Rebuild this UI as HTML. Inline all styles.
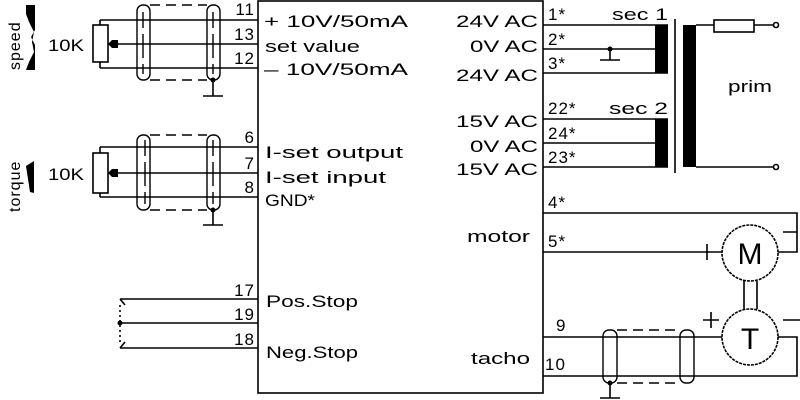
<!DOCTYPE html>
<html><head><meta charset="utf-8"><style>
html,body{margin:0;padding:0;background:#fff;width:800px;height:400px;overflow:hidden}
svg text{font-family:"Liberation Sans",sans-serif;font-size:17px;fill:#000;letter-spacing:1px}
svg text[textLength]{letter-spacing:0}
</style></head><body>
<svg width="800" height="400" viewBox="0 0 800 400" xmlns="http://www.w3.org/2000/svg">
<g stroke="#000" stroke-width="1.6" fill="none">
<rect x="258" y="1" width="285" height="392"/>
<path d="M100 20H258M112 44H258M100 68H258M100 20V25M100 62V68"/>
<rect x="93" y="25" width="15" height="37"/>
<path d="M100 147H258M112 173H258M100 197H258M100 147V153M100 193V197"/>
<rect x="93" y="153" width="15" height="40"/>
<g stroke-dasharray="10,6">
<path d="M150 5H207M150 80H207M150 135H207M150 210H207"/>
</g>
<g stroke-width="1.4">
<rect x="137" y="5" width="13" height="75" rx="6"/>
<rect x="207" y="5" width="13" height="75" rx="6"/>
<rect x="137" y="135" width="13" height="75" rx="6"/>
<rect x="207" y="135" width="13" height="75" rx="6"/>
<path d="M143 12V28M143 34V58M143 64V74M213 12V28M213 34V58M213 64V74"/>
<path d="M145 140V156M145 162V186M145 192V204M213 140V156M213 162V186M213 192V204"/>
</g>
<path d="M213 80V96M203 96H223M213 210V225M203 225H223"/>
<path d="M120 299H258M120 323H258M120 348H258M120 299L125 305M120 348L125 342"/>
<path d="M120 305V342" stroke-dasharray="2,3"/>
<path d="M543 25H668M543 49H655M543 73H668M543 119H668M543 143H655M543 167H668"/>
<path d="M610 49V60M600 60H620"/>
<path d="M675 19V173"/>
<path d="M696 25H714M754 25H773M696 167H773"/>
<rect x="714" y="20" width="40" height="12"/>
<circle cx="776" cy="25" r="2.5"/><circle cx="776" cy="167" r="2.5"/>
<path d="M543 213H797V252H778M543 252H722M707 244V260M699 252H715M783 232H797"/>
<circle cx="750" cy="253" r="28" stroke-dasharray="3,1"/>
<path d="M744 281V309M757 281V309"/>
<circle cx="750" cy="337" r="28" stroke-dasharray="3,1"/>
<path d="M543 337H722M778 337H797V376H543M711 312V328M703 320H719M783 320H800"/>
<g stroke-dasharray="10,6"><path d="M617 330H680M617 383H680"/></g>
<rect x="603" y="330" width="14" height="53" rx="6" stroke-width="1.4"/>
<rect x="680" y="330" width="14" height="53" rx="6" stroke-width="1.4"/>
<path d="M610 383V398M600 398H620"/>
</g>
<g fill="#000">
<rect x="655" y="25" width="13" height="48"/>
<rect x="655" y="119" width="13" height="48"/>
<rect x="683" y="25" width="13" height="142"/>
<circle cx="610" cy="49" r="2.5"/>
<circle cx="213" cy="80" r="2.5"/><circle cx="213" cy="210" r="2.5"/><circle cx="610" cy="383" r="2.5"/>
<circle cx="120" cy="323" r="2.5"/>
<path d="M112 40H118V48H112L108 44Z"/>
<path d="M112 169H118V177H112L108 173Z"/>
<path d="M26 5H35V30L31 37L35 45V70H26L29 62L34 52L32 42L34 32L29 22L26 14Z"/>
<path d="M26 166L34 161V193L30 192Z"/>
</g>
<g>
<text transform="translate(20 70) rotate(-90)" style="font-size:16px">speed</text>
<text transform="translate(20 212) rotate(-90)" style="font-size:16px">torque</text>
<text x="48" y="51" textLength="36" lengthAdjust="spacingAndGlyphs">10K</text>
<text x="48" y="180" textLength="36" lengthAdjust="spacingAndGlyphs">10K</text>
<g text-anchor="end">
<text x="255" y="15">11</text><text x="255" y="40">13</text><text x="255" y="64">12</text>
<text x="255" y="143">6</text><text x="255" y="169">7</text><text x="255" y="193">8</text>
<text x="255" y="296">17</text><text x="255" y="320">19</text><text x="255" y="345">18</text>
</g>
<text x="456" y="27" textLength="82" lengthAdjust="spacingAndGlyphs">24V AC</text>
<text x="470" y="52" textLength="68" lengthAdjust="spacingAndGlyphs">0V AC</text>
<text x="456" y="81" textLength="82" lengthAdjust="spacingAndGlyphs">24V AC</text>
<text x="456" y="127" textLength="82" lengthAdjust="spacingAndGlyphs">15V AC</text>
<text x="470" y="152" textLength="68" lengthAdjust="spacingAndGlyphs">0V AC</text>
<text x="456" y="175" textLength="82" lengthAdjust="spacingAndGlyphs">15V AC</text>
<text x="467" y="242" textLength="63" lengthAdjust="spacingAndGlyphs">motor</text>
<text x="471" y="364" textLength="59" lengthAdjust="spacingAndGlyphs">tacho</text>
<text x="264" y="27" textLength="144" lengthAdjust="spacingAndGlyphs">+ 10V/50mA</text>
<text x="265" y="52" textLength="95" lengthAdjust="spacingAndGlyphs">set value</text>
<text x="264" y="75" textLength="144" lengthAdjust="spacingAndGlyphs">– 10V/50mA</text>
<text x="265" y="158" textLength="138" lengthAdjust="spacingAndGlyphs">I-set output</text>
<text x="265" y="183" textLength="121" lengthAdjust="spacingAndGlyphs">I-set input</text>
<text x="265" y="206" textLength="50" lengthAdjust="spacingAndGlyphs">GND*</text>
<text x="266" y="307" textLength="92" lengthAdjust="spacingAndGlyphs">Pos.Stop</text>
<text x="266" y="358" textLength="92" lengthAdjust="spacingAndGlyphs">Neg.Stop</text>
<text x="548" y="20">1*</text><text x="548" y="45">2*</text><text x="548" y="69">3*</text>
<text x="612" y="20" textLength="56" lengthAdjust="spacingAndGlyphs">sec 1</text>
<text x="548" y="114">22*</text><text x="548" y="139">24*</text><text x="548" y="163">23*</text>
<text x="609" y="114" textLength="59" lengthAdjust="spacingAndGlyphs">sec 2</text>
<text x="728" y="92" textLength="44" lengthAdjust="spacingAndGlyphs">prim</text>
<text x="548" y="208">4*</text><text x="548" y="247">5*</text>
<text x="556" y="331">9</text><text x="545" y="370">10</text>
<text x="750" y="264" text-anchor="middle" style="font-size:30px;letter-spacing:0">M</text>
<text x="750" y="349" text-anchor="middle" style="font-size:30px;letter-spacing:0">T</text>
</g>
</svg>
</body></html>
